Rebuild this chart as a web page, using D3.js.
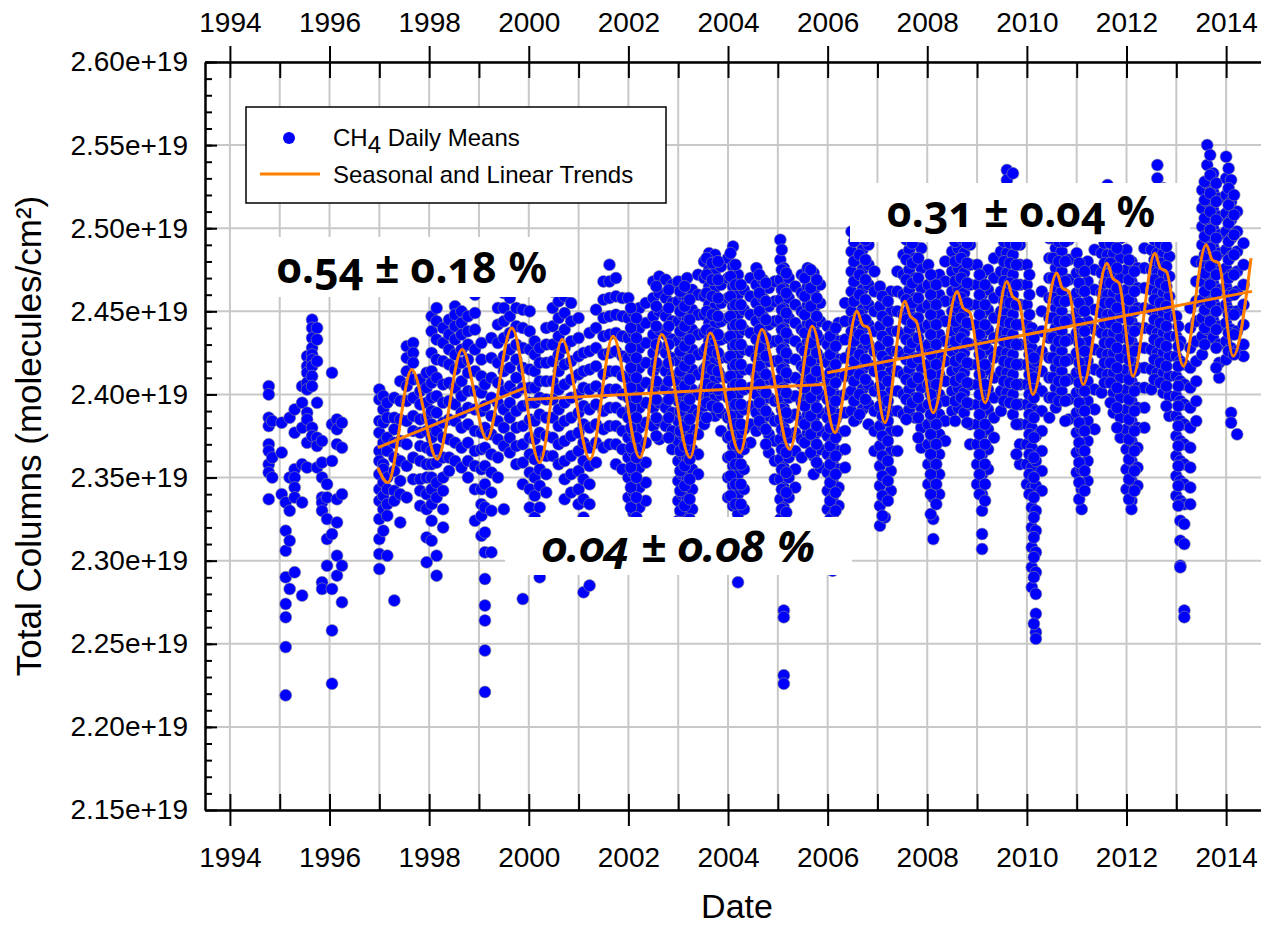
<!DOCTYPE html>
<html>
<head>
<meta charset="utf-8">
<script src="https://cdn.jsdelivr.net/npm/d3@7"></script>
<style>
  body { margin: 0; background: #fff; }
  text { font-family: "Liberation Sans", Arial, sans-serif; fill: #000; }
  .rate { font-family: "Noto Sans", "Open Sans", sans-serif; font-weight: bold; font-feature-settings: "onum" 1; }
</style>
</head>
<body>
<svg id="chart"></svg>
<script>
// daily means, [decimal year, values in 1e19 molecules/cm2]
const dailyMeans = [
  [1994.78, [2.405, 2.400, 2.386, 2.381, 2.370, 2.366, 2.358, 2.353, 2.337]],
  [1994.85, [2.384, 2.362, 2.350]],
  [1995.04, [2.383, 2.365, 2.340]],
  [1995.12, [2.335, 2.318, 2.306, 2.290, 2.274, 2.266, 2.248, 2.219]],
  [1995.20, [2.386, 2.350, 2.330, 2.312, 2.283]],
  [1995.30, [2.391, 2.377, 2.355, 2.350, 2.344, 2.338, 2.293]],
  [1995.45, [2.405, 2.395, 2.380, 2.358, 2.335, 2.279]],
  [1995.55, [2.423, 2.417, 2.413, 2.407, 2.403, 2.389, 2.385, 2.371, 2.356]],
  [1995.65, [2.445, 2.440, 2.434, 2.428, 2.424, 2.421, 2.417, 2.411, 2.405, 2.380, 2.375]],
  [1995.75, [2.440, 2.433, 2.420, 2.395, 2.374, 2.369, 2.356]],
  [1995.85, [2.372, 2.359, 2.350, 2.338, 2.335, 2.330, 2.287, 2.283]],
  [1995.95, [2.346, 2.338, 2.325, 2.313, 2.297]],
  [1996.05, [2.413, 2.382, 2.360, 2.316, 2.283, 2.258, 2.226]],
  [1996.15, [2.385, 2.379, 2.370, 2.337, 2.323, 2.303, 2.291]],
  [1996.25, [2.383, 2.368, 2.340, 2.297, 2.275]],

  [1997.00, [2.403, 2.397, 2.384, 2.377, 2.366, 2.360, 2.352, 2.343, 2.336, 2.325, 2.313, 2.304, 2.295]],
  [1997.08, [2.399, 2.391, 2.383, 2.371, 2.358, 2.355, 2.347, 2.339, 2.331, 2.318]],
  [1997.16, [2.395, 2.386, 2.374, 2.366, 2.350, 2.343, 2.334, 2.327, 2.303]],
  [1997.30, [2.398, 2.386, 2.379, 2.371, 2.362, 2.354, 2.342, 2.336, 2.276]],
  [1997.42, [2.408, 2.396, 2.385, 2.372, 2.360, 2.348, 2.340, 2.323]],
  [1997.55, [2.429, 2.422, 2.414, 2.405, 2.396, 2.384, 2.370, 2.357, 2.338]],
  [1997.68, [2.431, 2.425, 2.419, 2.409, 2.398, 2.387, 2.378, 2.362, 2.349]],
  [1997.82, [2.409, 2.402, 2.394, 2.385, 2.377, 2.369, 2.360, 2.349, 2.342, 2.333]],
  [1997.95, [2.413, 2.404, 2.395, 2.386, 2.378, 2.368, 2.358, 2.350, 2.340, 2.331, 2.314, 2.299]],

  [1998.05, [2.447, 2.438, 2.425, 2.414, 2.407, 2.398, 2.390, 2.382, 2.374, 2.366, 2.358, 2.350, 2.343, 2.334, 2.324, 2.312]],
  [1998.15, [2.452, 2.444, 2.433, 2.421, 2.410, 2.399, 2.389, 2.378, 2.367, 2.359, 2.347, 2.338, 2.303, 2.291]],
  [1998.28, [2.440, 2.431, 2.420, 2.406, 2.395, 2.383, 2.374, 2.362, 2.350, 2.342, 2.331, 2.320]],
  [1998.40, [2.445, 2.436, 2.427, 2.418, 2.407, 2.396, 2.385, 2.373, 2.362, 2.354]],
  [1998.52, [2.453, 2.448, 2.441, 2.433, 2.424, 2.415, 2.404, 2.394, 2.384, 2.371, 2.360]],
  [1998.65, [2.450, 2.443, 2.436, 2.427, 2.419, 2.408, 2.399, 2.389, 2.380, 2.368, 2.356]],
  [1998.78, [2.447, 2.438, 2.430, 2.421, 2.413, 2.402, 2.392, 2.382, 2.371, 2.360, 2.350]],
  [1998.92, [2.460, 2.449, 2.439, 2.427, 2.414, 2.402, 2.391, 2.378, 2.366, 2.357, 2.343, 2.324]],

  [1999.05, [2.431, 2.421, 2.411, 2.401, 2.390, 2.377, 2.367, 2.355, 2.343, 2.334, 2.327, 2.315]],
  [1999.12, [2.406, 2.393, 2.380, 2.368, 2.357, 2.346, 2.332, 2.317, 2.305, 2.289, 2.273, 2.264, 2.246, 2.221]],
  [1999.25, [2.434, 2.422, 2.410, 2.398, 2.387, 2.376, 2.364, 2.353, 2.341, 2.330, 2.305]],
  [1999.38, [2.452, 2.442, 2.431, 2.419, 2.407, 2.395, 2.384, 2.373, 2.362, 2.350]],
  [1999.50, [2.461, 2.452, 2.444, 2.434, 2.423, 2.414, 2.402, 2.391, 2.380, 2.369, 2.331]],
  [1999.62, [2.466, 2.458, 2.447, 2.437, 2.427, 2.416, 2.405, 2.395, 2.386, 2.374, 2.365]],
  [1999.75, [2.463, 2.452, 2.441, 2.430, 2.421, 2.410, 2.401, 2.390, 2.380, 2.369, 2.358]],
  [1999.88, [2.451, 2.440, 2.428, 2.416, 2.404, 2.393, 2.381, 2.370, 2.359, 2.346, 2.277]],

  [2000.02, [2.450, 2.438, 2.427, 2.415, 2.404, 2.395, 2.385, 2.374, 2.364, 2.353, 2.343, 2.332, 2.320]],
  [2000.12, [2.432, 2.424, 2.414, 2.404, 2.395, 2.384, 2.373, 2.361, 2.350, 2.339, 2.326, 2.312]],
  [2000.22, [2.428, 2.419, 2.408, 2.398, 2.388, 2.377, 2.366, 2.355, 2.345, 2.332, 2.290]],
  [2000.35, [2.440, 2.430, 2.419, 2.408, 2.397, 2.386, 2.375, 2.363, 2.352, 2.341]],
  [2000.48, [2.462, 2.452, 2.441, 2.430, 2.420, 2.408, 2.397, 2.386, 2.374, 2.363]],
  [2000.60, [2.466, 2.456, 2.446, 2.435, 2.424, 2.414, 2.403, 2.391, 2.381, 2.370, 2.358]],
  [2000.72, [2.459, 2.449, 2.439, 2.428, 2.418, 2.406, 2.395, 2.384, 2.372, 2.360, 2.349, 2.337]],
  [2000.85, [2.455, 2.444, 2.432, 2.420, 2.409, 2.398, 2.386, 2.375, 2.363, 2.352, 2.341]],

  [2001.00, [2.446, 2.434, 2.423, 2.412, 2.400, 2.389, 2.377, 2.366, 2.354, 2.343, 2.334]],
  [2001.10, [2.425, 2.414, 2.404, 2.393, 2.382, 2.371, 2.360, 2.349, 2.337, 2.326, 2.281]],
  [2001.22, [2.437, 2.426, 2.415, 2.403, 2.391, 2.380, 2.368, 2.357, 2.346, 2.334, 2.285]],
  [2001.35, [2.451, 2.440, 2.428, 2.417, 2.405, 2.394, 2.382, 2.371, 2.359]],
  [2001.50, [2.468, 2.457, 2.446, 2.435, 2.424, 2.412, 2.401, 2.390, 2.379, 2.368]],
  [2001.62, [2.478, 2.468, 2.458, 2.447, 2.436, 2.425, 2.414, 2.403, 2.392, 2.381, 2.370]],
  [2001.75, [2.470, 2.459, 2.448, 2.437, 2.426, 2.414, 2.403, 2.392, 2.381, 2.370, 2.358]],
  [2001.88, [2.458, 2.447, 2.435, 2.423, 2.411, 2.400, 2.389, 2.378, 2.367, 2.355]],

  [2002.00, [2.458, 2.446, 2.434, 2.422, 2.410, 2.398, 2.386, 2.374, 2.362, 2.350, 2.338]],
  [2002.10, [2.449, 2.437, 2.425, 2.413, 2.401, 2.389, 2.377, 2.365, 2.353, 2.341, 2.329, 2.317]],
  [2002.22, [2.452, 2.440, 2.428, 2.416, 2.404, 2.392, 2.380, 2.368, 2.356, 2.344, 2.332, 2.320, 2.305]],
  [2002.35, [2.455, 2.443, 2.431, 2.419, 2.407, 2.395, 2.383, 2.371, 2.359, 2.347, 2.336]],
  [2002.50, [2.468, 2.458, 2.447, 2.436, 2.425, 2.414, 2.403, 2.392, 2.381]],
  [2002.62, [2.471, 2.461, 2.450, 2.439, 2.428, 2.417, 2.406, 2.395, 2.384, 2.373]],
  [2002.75, [2.469, 2.458, 2.447, 2.436, 2.425, 2.414, 2.403, 2.392, 2.381]],
  [2002.88, [2.466, 2.455, 2.444, 2.433, 2.422, 2.411, 2.400, 2.389, 2.378, 2.367]],

  [2003.00, [2.468, 2.456, 2.444, 2.432, 2.420, 2.408, 2.396, 2.384, 2.372, 2.360, 2.348, 2.336, 2.324]],
  [2003.08, [2.460, 2.448, 2.436, 2.424, 2.412, 2.400, 2.388, 2.376, 2.364, 2.352, 2.340, 2.328, 2.316, 2.305]],
  [2003.18, [2.470, 2.458, 2.446, 2.434, 2.422, 2.410, 2.398, 2.386, 2.374, 2.362, 2.350, 2.338, 2.326, 2.314]],
  [2003.28, [2.463, 2.451, 2.439, 2.427, 2.415, 2.403, 2.391, 2.379, 2.367, 2.355, 2.343, 2.331, 2.319]],
  [2003.40, [2.472, 2.460, 2.448, 2.436, 2.424, 2.412, 2.400, 2.388, 2.376, 2.364, 2.352]],
  [2003.52, [2.480, 2.470, 2.459, 2.448, 2.437, 2.426, 2.415, 2.404, 2.393, 2.382]],
  [2003.62, [2.485, 2.475, 2.465, 2.454, 2.443, 2.432, 2.421, 2.410, 2.399]],
  [2003.74, [2.484, 2.474, 2.464, 2.453, 2.442, 2.431, 2.420, 2.409, 2.398, 2.387]],
  [2003.86, [2.477, 2.466, 2.455, 2.444, 2.433, 2.422, 2.411, 2.400, 2.389, 2.378]],

  [2004.00, [2.482, 2.470, 2.458, 2.446, 2.434, 2.422, 2.410, 2.398, 2.386, 2.374, 2.362, 2.350, 2.338]],
  [2004.10, [2.489, 2.477, 2.465, 2.453, 2.441, 2.429, 2.417, 2.405, 2.393, 2.381, 2.369, 2.357, 2.345, 2.333]],
  [2004.20, [2.472, 2.460, 2.448, 2.436, 2.424, 2.412, 2.400, 2.388, 2.376, 2.364, 2.352, 2.340, 2.328, 2.316, 2.287]],
  [2004.32, [2.463, 2.451, 2.439, 2.427, 2.415, 2.403, 2.391, 2.379, 2.367, 2.355, 2.343, 2.331]],
  [2004.45, [2.470, 2.459, 2.448, 2.437, 2.426, 2.415, 2.404, 2.393, 2.382, 2.371]],
  [2004.57, [2.476, 2.466, 2.455, 2.444, 2.433, 2.422, 2.411, 2.400, 2.389, 2.378]],
  [2004.70, [2.469, 2.458, 2.447, 2.436, 2.425, 2.414, 2.403, 2.392, 2.381]],
  [2004.82, [2.464, 2.453, 2.442, 2.431, 2.420, 2.409, 2.398, 2.387, 2.376, 2.365]],
  [2004.94, [2.468, 2.456, 2.444, 2.432, 2.420, 2.408, 2.396, 2.384, 2.372, 2.360, 2.349]],

  [2005.05, [2.493, 2.481, 2.469, 2.457, 2.445, 2.433, 2.421, 2.409, 2.397, 2.385, 2.373, 2.361, 2.349, 2.337, 2.325, 2.313, 2.301]],
  [2005.12, [2.476, 2.464, 2.452, 2.440, 2.428, 2.416, 2.404, 2.392, 2.380, 2.368, 2.356, 2.344, 2.332, 2.320, 2.270, 2.266, 2.231, 2.226]],
  [2005.22, [2.470, 2.458, 2.446, 2.434, 2.422, 2.410, 2.398, 2.386, 2.374, 2.362, 2.350, 2.338]],
  [2005.35, [2.465, 2.454, 2.443, 2.432, 2.421, 2.410, 2.399, 2.388, 2.377, 2.366, 2.355, 2.344]],
  [2005.48, [2.472, 2.461, 2.450, 2.439, 2.428, 2.417, 2.406, 2.395, 2.384, 2.373, 2.362]],
  [2005.60, [2.476, 2.465, 2.454, 2.443, 2.432, 2.421, 2.410, 2.399, 2.388, 2.377]],
  [2005.72, [2.473, 2.462, 2.451, 2.440, 2.429, 2.418, 2.407, 2.396, 2.385, 2.374, 2.363, 2.352]],
  [2005.85, [2.466, 2.455, 2.444, 2.433, 2.422, 2.411, 2.400, 2.389, 2.378, 2.367, 2.356]],

  [2006.00, [2.441, 2.430, 2.419, 2.408, 2.397, 2.386, 2.375, 2.364, 2.353, 2.342, 2.331, 2.320]],
  [2006.10, [2.437, 2.426, 2.415, 2.404, 2.393, 2.382, 2.371, 2.360, 2.349, 2.338, 2.327, 2.316, 2.294]],
  [2006.22, [2.443, 2.432, 2.421, 2.410, 2.399, 2.388, 2.377, 2.366, 2.355, 2.344, 2.333]],
  [2006.35, [2.455, 2.444, 2.433, 2.422, 2.411, 2.400, 2.389, 2.378, 2.367, 2.356]],
  [2006.48, [2.498, 2.486, 2.474, 2.462, 2.450, 2.438, 2.426, 2.414, 2.402, 2.390]],
  [2006.58, [2.505, 2.493, 2.481, 2.469, 2.457, 2.445, 2.433, 2.421, 2.409, 2.397, 2.385]],
  [2006.70, [2.499, 2.487, 2.475, 2.463, 2.451, 2.439, 2.427, 2.415, 2.403, 2.391]],
  [2006.82, [2.490, 2.478, 2.466, 2.454, 2.442, 2.430, 2.418, 2.406, 2.394, 2.382]],
  [2006.94, [2.474, 2.462, 2.450, 2.438, 2.426, 2.414, 2.402, 2.390, 2.378, 2.366]],

  [2007.05, [2.465, 2.453, 2.441, 2.429, 2.417, 2.405, 2.393, 2.381, 2.369, 2.357, 2.345, 2.333, 2.321]],
  [2007.15, [2.458, 2.446, 2.434, 2.422, 2.410, 2.398, 2.386, 2.374, 2.362, 2.350, 2.338, 2.326]],
  [2007.27, [2.462, 2.450, 2.438, 2.426, 2.414, 2.402, 2.390, 2.378, 2.366, 2.354, 2.342]],
  [2007.40, [2.474, 2.462, 2.450, 2.438, 2.426, 2.414, 2.402, 2.390, 2.378, 2.366]],
  [2007.52, [2.496, 2.484, 2.472, 2.460, 2.448, 2.436, 2.424, 2.412, 2.400, 2.388]],
  [2007.64, [2.499, 2.487, 2.475, 2.463, 2.451, 2.439, 2.427, 2.415, 2.403, 2.391]],
  [2007.76, [2.494, 2.482, 2.470, 2.458, 2.446, 2.434, 2.422, 2.410, 2.398, 2.386]],
  [2007.88, [2.488, 2.476, 2.464, 2.452, 2.440, 2.428, 2.416, 2.404, 2.392, 2.380, 2.368]],

  [2008.02, [2.478, 2.466, 2.454, 2.442, 2.430, 2.418, 2.406, 2.394, 2.382, 2.370, 2.358, 2.346]],
  [2008.12, [2.470, 2.458, 2.446, 2.434, 2.422, 2.410, 2.398, 2.386, 2.374, 2.362, 2.350, 2.338, 2.325, 2.313]],
  [2008.24, [2.472, 2.460, 2.448, 2.436, 2.424, 2.412, 2.400, 2.388, 2.376, 2.364, 2.352, 2.340]],
  [2008.36, [2.480, 2.468, 2.456, 2.444, 2.432, 2.420, 2.408, 2.396, 2.384, 2.372]],
  [2008.50, [2.498, 2.486, 2.474, 2.462, 2.450, 2.438, 2.426, 2.414, 2.402, 2.390]],
  [2008.62, [2.500, 2.488, 2.476, 2.464, 2.452, 2.440, 2.428, 2.416, 2.404, 2.392]],
  [2008.74, [2.497, 2.485, 2.473, 2.461, 2.449, 2.437, 2.425, 2.413, 2.401, 2.389]],
  [2008.86, [2.490, 2.478, 2.466, 2.454, 2.442, 2.430, 2.418, 2.406, 2.394, 2.382, 2.370]],

  [2009.00, [2.478, 2.466, 2.454, 2.442, 2.430, 2.418, 2.406, 2.394, 2.382, 2.370, 2.358, 2.346]],
  [2009.10, [2.472, 2.460, 2.448, 2.436, 2.424, 2.412, 2.400, 2.388, 2.376, 2.364, 2.352, 2.340, 2.330, 2.316, 2.307]],
  [2009.22, [2.475, 2.463, 2.451, 2.439, 2.427, 2.415, 2.403, 2.391, 2.379, 2.367, 2.355]],
  [2009.34, [2.482, 2.470, 2.458, 2.446, 2.434, 2.422, 2.410, 2.398, 2.386, 2.374]],
  [2009.48, [2.498, 2.486, 2.474, 2.462, 2.450, 2.438, 2.426, 2.414, 2.402, 2.390]],
  [2009.60, [2.535, 2.529, 2.497, 2.485, 2.473, 2.461, 2.449, 2.437, 2.425, 2.413, 2.401]],
  [2009.72, [2.533, 2.496, 2.484, 2.472, 2.460, 2.448, 2.436, 2.424, 2.412, 2.400, 2.388]],
  [2009.86, [2.490, 2.478, 2.466, 2.454, 2.442, 2.430, 2.418, 2.406, 2.394, 2.382, 2.370, 2.358]],

  [2010.00, [2.478, 2.466, 2.454, 2.442, 2.430, 2.418, 2.406, 2.394, 2.382, 2.370, 2.358, 2.346]],
  [2010.10, [2.440, 2.428, 2.416, 2.404, 2.392, 2.380, 2.368, 2.356, 2.344, 2.332, 2.320, 2.308, 2.296, 2.284]],
  [2010.18, [2.420, 2.405, 2.390, 2.375, 2.360, 2.345, 2.330, 2.318, 2.305, 2.293, 2.280, 2.268, 2.257, 2.253]],
  [2010.30, [2.462, 2.450, 2.438, 2.426, 2.414, 2.402, 2.390, 2.378, 2.366, 2.354, 2.342]],
  [2010.45, [2.494, 2.482, 2.470, 2.458, 2.446, 2.434, 2.422, 2.410, 2.398, 2.386]],
  [2010.58, [2.500, 2.488, 2.476, 2.464, 2.452, 2.440, 2.428, 2.416, 2.404, 2.392]],
  [2010.70, [2.498, 2.486, 2.474, 2.462, 2.450, 2.438, 2.426, 2.414, 2.402]],
  [2010.84, [2.493, 2.481, 2.469, 2.457, 2.445, 2.433, 2.421, 2.409, 2.397, 2.385]],

  [2011.00, [2.485, 2.473, 2.461, 2.449, 2.437, 2.425, 2.413, 2.401, 2.389, 2.377, 2.365, 2.353]],
  [2011.10, [2.475, 2.463, 2.451, 2.439, 2.427, 2.415, 2.403, 2.391, 2.379, 2.367, 2.355, 2.343, 2.331]],
  [2011.22, [2.480, 2.468, 2.456, 2.444, 2.432, 2.420, 2.408, 2.396, 2.384, 2.372, 2.360, 2.348]],
  [2011.36, [2.487, 2.475, 2.463, 2.451, 2.439, 2.427, 2.415, 2.403, 2.391, 2.379]],
  [2011.50, [2.497, 2.485, 2.473, 2.461, 2.449, 2.437, 2.425, 2.413, 2.401]],
  [2011.62, [2.526, 2.520, 2.496, 2.484, 2.472, 2.460, 2.448, 2.436, 2.424, 2.412]],
  [2011.74, [2.497, 2.485, 2.473, 2.461, 2.449, 2.437, 2.425, 2.413, 2.401, 2.389]],
  [2011.88, [2.494, 2.482, 2.470, 2.458, 2.446, 2.434, 2.422, 2.410, 2.398, 2.386, 2.374]],

  [2012.00, [2.487, 2.475, 2.463, 2.451, 2.439, 2.427, 2.415, 2.403, 2.391, 2.379, 2.367, 2.355, 2.343]],
  [2012.10, [2.480, 2.468, 2.456, 2.444, 2.432, 2.420, 2.408, 2.396, 2.384, 2.372, 2.360, 2.348, 2.336, 2.331]],
  [2012.22, [2.476, 2.464, 2.452, 2.440, 2.428, 2.416, 2.404, 2.392, 2.380, 2.368, 2.356, 2.345]],
  [2012.36, [2.488, 2.476, 2.464, 2.452, 2.440, 2.428, 2.416, 2.404, 2.392, 2.380]],
  [2012.50, [2.499, 2.487, 2.475, 2.463, 2.451, 2.439, 2.427, 2.415, 2.403]],
  [2012.62, [2.538, 2.530, 2.523, 2.497, 2.485, 2.473, 2.461, 2.449, 2.437, 2.425, 2.413]],
  [2012.74, [2.524, 2.497, 2.485, 2.473, 2.461, 2.449, 2.437, 2.425, 2.413, 2.401]],
  [2012.86, [2.495, 2.483, 2.471, 2.459, 2.447, 2.435, 2.423, 2.411, 2.399, 2.387]],

  [2013.00, [2.447, 2.435, 2.423, 2.411, 2.399, 2.387, 2.375, 2.363, 2.351, 2.339]],
  [2013.08, [2.432, 2.420, 2.408, 2.396, 2.384, 2.372, 2.360, 2.348, 2.336, 2.324, 2.312, 2.297, 2.296]],
  [2013.16, [2.418, 2.406, 2.394, 2.382, 2.370, 2.358, 2.346, 2.334, 2.322, 2.310, 2.270, 2.266]],
  [2013.28, [2.452, 2.440, 2.428, 2.416, 2.404, 2.392, 2.380, 2.368, 2.356, 2.344, 2.334]],
  [2013.40, [2.480, 2.468, 2.456, 2.444, 2.432, 2.420, 2.408, 2.396, 2.384]],
  [2013.52, [2.523, 2.512, 2.501, 2.490, 2.479, 2.468, 2.457, 2.446, 2.435, 2.424]],
  [2013.62, [2.550, 2.538, 2.527, 2.516, 2.505, 2.494, 2.483, 2.472, 2.461, 2.450, 2.439]],
  [2013.74, [2.533, 2.522, 2.511, 2.500, 2.489, 2.478, 2.467, 2.456, 2.445, 2.434]],
  [2013.86, [2.518, 2.507, 2.496, 2.485, 2.474, 2.463, 2.452, 2.441, 2.430, 2.419, 2.410]],

  [2014.00, [2.543, 2.530, 2.520, 2.509, 2.498, 2.487, 2.476, 2.465, 2.454, 2.443, 2.432, 2.421]],
  [2014.10, [2.529, 2.516, 2.505, 2.494, 2.483, 2.472, 2.461, 2.450, 2.439, 2.428, 2.389, 2.383]],
  [2014.22, [2.510, 2.498, 2.486, 2.474, 2.462, 2.450, 2.438, 2.426, 2.376]],
  [2014.35, [2.491, 2.478, 2.466, 2.454, 2.442, 2.430, 2.423]]
];

// more daily means in the densest seasons (2002 onward)
const moreDailyMeans = [
  [2002.05, [2.452, 2.440, 2.428, 2.416, 2.404, 2.392, 2.380, 2.368, 2.356, 2.344, 2.332, 2.321]],
  [2002.16, [2.446, 2.434, 2.422, 2.410, 2.398, 2.386, 2.374, 2.362, 2.350, 2.338, 2.326, 2.314]],
  [2002.56, [2.465, 2.453, 2.441, 2.430, 2.419, 2.408, 2.397, 2.386, 2.375]],
  [2002.81, [2.463, 2.452, 2.441, 2.430, 2.419, 2.408, 2.397, 2.386, 2.374]],
  [2003.04, [2.462, 2.450, 2.438, 2.426, 2.414, 2.402, 2.390, 2.378, 2.366, 2.354, 2.342, 2.330, 2.318]],
  [2003.13, [2.465, 2.453, 2.441, 2.429, 2.417, 2.405, 2.393, 2.381, 2.369, 2.357, 2.345, 2.333, 2.321, 2.308]],
  [2003.23, [2.457, 2.445, 2.433, 2.421, 2.409, 2.397, 2.385, 2.373, 2.361, 2.349, 2.337, 2.325]],
  [2003.57, [2.482, 2.472, 2.461, 2.450, 2.439, 2.428, 2.417, 2.406, 2.395, 2.386]],
  [2003.68, [2.479, 2.469, 2.459, 2.448, 2.437, 2.426, 2.415, 2.404, 2.393]],
  [2003.80, [2.480, 2.469, 2.458, 2.447, 2.436, 2.425, 2.414, 2.403, 2.392]],
  [2004.05, [2.485, 2.471, 2.459, 2.447, 2.435, 2.423, 2.411, 2.399, 2.387, 2.375, 2.363, 2.351, 2.339]],
  [2004.15, [2.478, 2.466, 2.454, 2.442, 2.430, 2.418, 2.406, 2.394, 2.382, 2.370, 2.358, 2.346, 2.334, 2.322]],
  [2004.26, [2.466, 2.454, 2.442, 2.430, 2.418, 2.406, 2.394, 2.382, 2.370, 2.358, 2.346, 2.334]],
  [2004.63, [2.472, 2.461, 2.450, 2.439, 2.428, 2.417, 2.406, 2.395, 2.384]],
  [2004.76, [2.467, 2.456, 2.445, 2.434, 2.423, 2.412, 2.401, 2.390, 2.379, 2.370]],
  [2005.08, [2.487, 2.475, 2.463, 2.451, 2.439, 2.427, 2.415, 2.403, 2.391, 2.379, 2.367, 2.355, 2.343, 2.331, 2.319, 2.307]],
  [2005.17, [2.473, 2.461, 2.449, 2.437, 2.425, 2.413, 2.401, 2.389, 2.377, 2.365, 2.353, 2.341, 2.329]],
  [2005.54, [2.470, 2.459, 2.448, 2.437, 2.426, 2.415, 2.404, 2.393, 2.382, 2.371]],
  [2005.66, [2.475, 2.464, 2.453, 2.442, 2.431, 2.420, 2.409, 2.398, 2.387, 2.376, 2.365]],
  [2005.78, [2.469, 2.458, 2.447, 2.436, 2.425, 2.414, 2.403, 2.392, 2.381, 2.370, 2.359]],
  [2006.05, [2.435, 2.424, 2.413, 2.402, 2.391, 2.380, 2.369, 2.358, 2.347, 2.336, 2.325]],
  [2006.16, [2.440, 2.429, 2.418, 2.407, 2.396, 2.385, 2.374, 2.363, 2.352, 2.341, 2.330, 2.318]],
  [2006.53, [2.492, 2.480, 2.468, 2.456, 2.444, 2.432, 2.420, 2.408, 2.396, 2.384]],
  [2006.64, [2.496, 2.484, 2.472, 2.460, 2.448, 2.436, 2.424, 2.412, 2.400, 2.388]],
  [2006.76, [2.493, 2.481, 2.469, 2.457, 2.445, 2.433, 2.421, 2.409, 2.397]],
  [2007.10, [2.459, 2.447, 2.435, 2.423, 2.411, 2.399, 2.387, 2.375, 2.363, 2.351, 2.339, 2.327]],
  [2007.21, [2.456, 2.444, 2.432, 2.420, 2.408, 2.396, 2.384, 2.372, 2.360, 2.348, 2.336]],
  [2007.58, [2.493, 2.481, 2.469, 2.457, 2.445, 2.433, 2.421, 2.409, 2.397, 2.385]],
  [2007.70, [2.491, 2.479, 2.467, 2.455, 2.443, 2.431, 2.419, 2.407, 2.395]],
  [2007.82, [2.482, 2.470, 2.458, 2.446, 2.434, 2.422, 2.410, 2.398, 2.386, 2.374]],
  [2008.07, [2.472, 2.460, 2.448, 2.436, 2.424, 2.412, 2.400, 2.388, 2.376, 2.364, 2.352, 2.340, 2.328]],
  [2008.18, [2.466, 2.454, 2.442, 2.430, 2.418, 2.406, 2.394, 2.382, 2.370, 2.358, 2.346, 2.334]],
  [2008.56, [2.492, 2.480, 2.468, 2.456, 2.444, 2.432, 2.420, 2.408, 2.396, 2.384]],
  [2008.68, [2.494, 2.482, 2.470, 2.458, 2.446, 2.434, 2.422, 2.410, 2.398]],
  [2008.80, [2.491, 2.479, 2.467, 2.455, 2.443, 2.431, 2.419, 2.407, 2.395, 2.383]],
  [2009.05, [2.472, 2.460, 2.448, 2.436, 2.424, 2.412, 2.400, 2.388, 2.376, 2.364, 2.352, 2.340]],
  [2009.16, [2.466, 2.454, 2.442, 2.430, 2.418, 2.406, 2.394, 2.382, 2.370, 2.358, 2.346, 2.336]],
  [2009.54, [2.492, 2.480, 2.468, 2.456, 2.444, 2.432, 2.420, 2.408, 2.396]],
  [2009.66, [2.491, 2.479, 2.467, 2.455, 2.443, 2.431, 2.419, 2.407, 2.395]],
  [2009.79, [2.490, 2.478, 2.466, 2.454, 2.442, 2.430, 2.418, 2.406, 2.394, 2.382, 2.364]],
  [2010.05, [2.472, 2.460, 2.448, 2.436, 2.424, 2.412, 2.400, 2.388, 2.376, 2.364, 2.352, 2.340]],
  [2010.14, [2.434, 2.422, 2.410, 2.398, 2.386, 2.374, 2.362, 2.350, 2.338, 2.326, 2.314, 2.302, 2.290, 2.262]],
  [2010.52, [2.494, 2.482, 2.470, 2.458, 2.446, 2.434, 2.422, 2.410, 2.398]],
  [2010.64, [2.492, 2.480, 2.468, 2.456, 2.444, 2.432, 2.420, 2.408, 2.396]],
  [2010.77, [2.492, 2.480, 2.468, 2.456, 2.444, 2.432, 2.420, 2.408, 2.396, 2.384]],
  [2011.05, [2.479, 2.467, 2.455, 2.443, 2.431, 2.419, 2.407, 2.395, 2.383, 2.371, 2.359, 2.347, 2.337]],
  [2011.16, [2.474, 2.462, 2.450, 2.438, 2.426, 2.414, 2.402, 2.390, 2.378, 2.366, 2.354, 2.342]],
  [2011.56, [2.491, 2.479, 2.467, 2.455, 2.443, 2.431, 2.419, 2.407]],
  [2011.68, [2.491, 2.479, 2.467, 2.455, 2.443, 2.431, 2.419, 2.407, 2.395]],
  [2011.81, [2.488, 2.476, 2.464, 2.452, 2.440, 2.428, 2.416, 2.404, 2.392, 2.380]],
  [2012.05, [2.481, 2.469, 2.457, 2.445, 2.433, 2.421, 2.409, 2.397, 2.385, 2.373, 2.361, 2.349, 2.337]],
  [2012.16, [2.474, 2.462, 2.450, 2.438, 2.426, 2.414, 2.402, 2.390, 2.378, 2.366, 2.354, 2.342]],
  [2012.56, [2.493, 2.481, 2.469, 2.457, 2.445, 2.433, 2.421, 2.409]],
  [2012.68, [2.491, 2.479, 2.467, 2.455, 2.443, 2.431, 2.419, 2.407]],
  [2012.80, [2.489, 2.477, 2.465, 2.453, 2.441, 2.429, 2.417, 2.405, 2.393]],
  [2013.04, [2.441, 2.429, 2.417, 2.405, 2.393, 2.381, 2.369, 2.357, 2.345, 2.333]],
  [2013.57, [2.528, 2.517, 2.506, 2.495, 2.484, 2.473, 2.462, 2.451, 2.440, 2.430]],
  [2013.68, [2.544, 2.532, 2.521, 2.510, 2.499, 2.488, 2.477, 2.466, 2.455, 2.444]],
  [2013.80, [2.527, 2.516, 2.505, 2.494, 2.483, 2.472, 2.461, 2.450, 2.439, 2.428, 2.416]],
  [2014.05, [2.536, 2.524, 2.514, 2.503, 2.492, 2.481, 2.470, 2.459, 2.448, 2.437, 2.426]],
  [2014.16, [2.520, 2.508, 2.496, 2.484, 2.472, 2.460, 2.448, 2.436, 2.424]]
];

// fitted seasonal curve (decimal year, 1e19)
const seasonalDates = [
  1996.97, 1997.17, 1997.65, 1998.16, 1998.66, 1999.16, 1999.66, 2000.22, 2000.67, 2001.23,
  2001.69, 2002.23, 2002.67, 2003.24, 2003.64, 2004.24, 2004.68, 2005.24, 2005.69, 2006.15,
  2006.59, 2006.70, 2006.82, 2007.15, 2007.55, 2007.66, 2007.78, 2008.12, 2008.60, 2008.72,
  2008.86, 2009.16, 2009.60, 2009.71, 2009.84, 2010.12, 2010.60, 2010.71, 2010.84, 2011.13,
  2011.61, 2011.72, 2011.85, 2012.13, 2012.57, 2012.68, 2012.80, 2013.14, 2013.60, 2013.72,
  2013.85, 2014.14, 2014.50
];
const seasonalValues = [
  2.356, 2.347, 2.415, 2.361, 2.427, 2.373, 2.440, 2.359, 2.433, 2.361,
  2.435, 2.362, 2.436, 2.362, 2.437, 2.365, 2.439, 2.367, 2.441, 2.377,
  2.450, 2.442, 2.440, 2.383, 2.456, 2.447, 2.444, 2.389, 2.462, 2.452,
  2.449, 2.395, 2.468, 2.459, 2.456, 2.400, 2.473, 2.464, 2.462, 2.406,
  2.479, 2.470, 2.467, 2.411, 2.485, 2.476, 2.474, 2.417, 2.490, 2.481,
  2.479, 2.423, 2.482
];

// piecewise linear trends: start/end year, start/end value (1e19)
const trendStarts = [1996.97, 1999.98, 2005.99];
const trendEnds = [1999.92, 2005.91, 2014.52];
const trendStartValues = [2.368, 2.397, 2.413];
const trendEndValues = [2.404, 2.406, 2.462];

const rateTexts = ["0.54 \u00b1 0.18 %", "0.31 \u00b1 0.04 %", "0.04 \u00b1 0.08 %"];

const yearTicks = [1994, 1996, 1998, 2000, 2002, 2004, 2006, 2008, 2010, 2012, 2014];
const allYears = [1994, 1995, 1996, 1997, 1998, 1999, 2000, 2001, 2002, 2003, 2004,
  2005, 2006, 2007, 2008, 2009, 2010, 2011, 2012, 2013, 2014];
const yTicks = [2.15, 2.20, 2.25, 2.30, 2.35, 2.40, 2.45, 2.50, 2.55, 2.60];

const E19 = 1e19;

const margin = { top: 62, right: 0, bottom: 116, left: 205 };
const W = 1261, H = 926;
const width = 1056;
const height = H - margin.top - margin.bottom;

const svg = d3.select("#chart").attr("width", W).attr("height", H);
const g = svg.append("g").attr("transform", `translate(${margin.left}, ${margin.top})`);

const x = d3.scaleLinear().domain([1993.5, 2014.7]).range([0, width]);
const y = d3.scaleLinear().domain([2.15 * E19, 2.60 * E19]).range([height, 0]);

// grid
g.append("g")
	.selectAll("line")
	.data(allYears)
	.join("line")
	.attr("x1", d => x(d)).attr("x2", d => x(d))
	.attr("y1", 0).attr("y2", height)
	.attr("stroke", "#c8c8c8").attr("stroke-width", 2);

g.append("g")
	.selectAll("line")
	.data(yTicks)
	.join("line")
	.attr("x1", 0).attr("x2", width)
	.attr("y1", d => y(d * E19)).attr("y2", d => y(d * E19))
	.attr("stroke", "#c8c8c8").attr("stroke-width", 2);

// daily means
const points = dailyMeans.concat(moreDailyMeans)
	.flatMap(([t, vals]) => vals.map(v => ({ t, v })));

g.append("g")
	.selectAll("circle")
	.data(points)
	.join("circle")
	.attr("cx", d => x(d.t))
	.attr("cy", d => y(d.v * E19))
	.attr("r", 6)
	.attr("fill", "#0000ff")
	.attr("stroke", "#8a8a8a")
	.attr("stroke-width", 0.6);

// trends
const seasonal = seasonalDates.map((t, i) => [t, seasonalValues[i]]);
const line = d3.line()
	.x(d => x(d[0]))
	.y(d => y(d[1] * E19));

g.append("path")
	.datum(seasonal)
	.attr("d", line.curve(d3.curveMonotoneX))
	.attr("fill", "none")
	.attr("stroke", "#ff8000")
	.attr("stroke-width", 3);

trendStarts.forEach((t0, i) => {
	g.append("path")
		.datum([[t0, trendStartValues[i]], [trendEnds[i], trendEndValues[i]]])
		.attr("d", d3.line().x(d => x(d[0])).y(d => y(d[1] * E19)))
		.attr("fill", "none")
		.attr("stroke", "#ff8000")
		.attr("stroke-width", 3);
});

// rate labels on white boxes
const labelBoxes = [
	{ x: 250, y: 237, w: 325, h: 60, tx: 277, ty: 283, tw: 270, italic: false },
	{ x: 850, y: 183, w: 340, h: 59, tx: 887, ty: 227, tw: 268, italic: false },
	{ x: 505, y: 517, w: 347, h: 58, tx: 542, ty: 562, tw: 273, italic: true }
];
labelBoxes.forEach((b, i) => {
	svg.append("rect")
		.attr("x", b.x).attr("y", b.y)
		.attr("width", b.w).attr("height", b.h)
		.attr("fill", "#fff");
	svg.append("text")
		.attr("class", "rate")
		.attr("x", b.tx).attr("y", b.ty)
		.attr("font-size", 43)
		.attr("font-style", b.italic ? "italic" : "normal")
		.attr("textLength", b.tw)
		.attr("lengthAdjust", "spacingAndGlyphs")
		.text(rateTexts[i]);
});

// legend
const legend = svg.append("g");
legend.append("rect")
	.attr("x", 246).attr("y", 107)
	.attr("width", 420).attr("height", 96)
	.attr("fill", "#fff")
	.attr("stroke", "#000")
	.attr("stroke-width", 1.5);
legend.append("circle")
	.attr("cx", 289).attr("cy", 138).attr("r", 6)
	.attr("fill", "#0000ff");
legend.append("line")
	.attr("x1", 260).attr("x2", 320)
	.attr("y1", 174).attr("y2", 174)
	.attr("stroke", "#ff8000").attr("stroke-width", 3);
const l1 = legend.append("text")
	.attr("x", 333).attr("y", 146)
	.attr("font-size", 24);
l1.append("tspan").text("CH");
l1.append("tspan").attr("dy", 7).text("4");
l1.append("tspan").attr("dy", -7).text(" Daily Means");
legend.append("text")
	.attr("x", 333).attr("y", 183)
	.attr("font-size", 24)
	.text("Seasonal and Linear Trends");

// axes
const fmt = d3.format(".2e");

function styleAxis(sel) {
	sel.selectAll("path").attr("stroke", "#000").attr("stroke-width", 2);
	sel.selectAll("line").attr("stroke", "#000").attr("stroke-width", 2);
	sel.selectAll("text").attr("font-size", 28).attr("fill", "#000")
		.attr("font-family", "'Liberation Sans', Arial, sans-serif");
}

g.append("g")
	.attr("transform", `translate(0, ${height})`)
	.call(d3.axisBottom(x).tickValues(allYears).tickSize(-16).tickSizeOuter(0).tickFormat(""))
	.call(styleAxis);
g.append("g")
	.attr("transform", `translate(0, ${height})`)
	.call(d3.axisBottom(x).tickValues(yearTicks).tickSize(16).tickSizeOuter(0).tickPadding(21).tickFormat(d3.format("d")))
	.call(styleAxis);

g.append("g")
	.call(d3.axisTop(x).tickValues(allYears).tickSize(-16).tickSizeOuter(0).tickFormat(""))
	.call(styleAxis);
g.append("g")
	.call(d3.axisTop(x).tickValues(yearTicks).tickSize(16).tickSizeOuter(0).tickPadding(14).tickFormat(d3.format("d")))
	.call(styleAxis);

const minorY = d3.range(216, 261).map(d => d / 100);
g.append("g")
	.call(d3.axisLeft(y).tickValues(minorY.map(d => d * E19)).tickSize(-7).tickSizeOuter(0).tickFormat(""))
	.call(styleAxis);
g.append("g")
	.call(d3.axisLeft(y).tickValues(yTicks.map(d => d * E19)).tickSize(-12).tickSizeOuter(0).tickPadding(17).tickFormat(fmt))
	.call(styleAxis);

// titles
svg.append("text")
	.attr("transform", "rotate(-90)")
	.attr("x", -436).attr("y", 41)
	.attr("text-anchor", "middle")
	.attr("font-size", 35)
	.text("Total Columns (molecules/cm\u00b2)");

svg.append("text")
	.attr("x", 737).attr("y", 918)
	.attr("text-anchor", "middle")
	.attr("font-size", 34)
	.text("Date");
</script>
</body>
</html>
